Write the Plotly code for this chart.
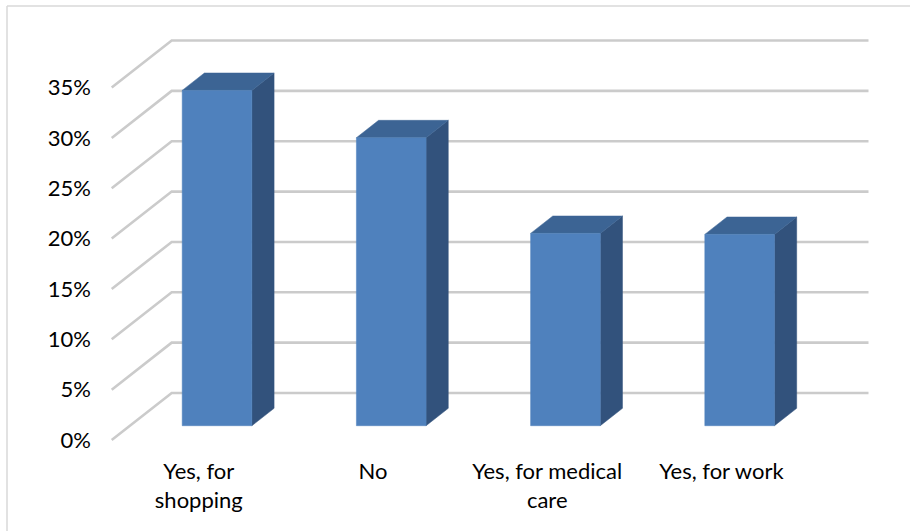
import plotly.graph_objects as go

categories = ["Yes, for<br>shopping", "No", "Yes, for medical<br>care", "Yes, for work"]
values = [33.3, 28.6, 19.1, 19.0]
tick_vals = [0, 5, 10, 15, 20, 25, 30, 35]
tick_text = ["0%", "5%", "10%", "15%", "20%", "25%", "30%", "35%"]

# oblique 3D projection parameters (in data units)
DX = 0.3444   # x shift for full depth (category units)
DY = 4.667    # y shift for full depth (percent units)
D0, D1 = 0.304, 0.674   # bar front/back depth fraction
HW = 0.20               # bar half width

FRONT = "#4F81BD"
TOP = "#3C6494"
SIDE = "#32527C"
GRID = "#CBCBCB"

def P(x, y, d):
    return x + d * DX, y + d * DY

fig = go.Figure()

# gridlines: side wall diagonals + back wall horizontals
for v in tick_vals:
    x0, y0 = P(-0.5, v, 0)
    x1, y1 = P(-0.5, v, 1)
    x2, y2 = P(len(categories) - 0.5, v, 1)
    fig.add_trace(go.Scatter(x=[x0, x1, x2], y=[y0, y1, y2], mode="lines",
                             line=dict(color=GRID, width=2.6), hoverinfo="skip",
                             showlegend=False))

def poly(pts, color):
    xs = [p[0] for p in pts] + [pts[0][0]]
    ys = [p[1] for p in pts] + [pts[0][1]]
    fig.add_trace(go.Scatter(x=xs, y=ys, mode="lines", fill="toself",
                             fillcolor=color, line=dict(color=color, width=0.5),
                             hoverinfo="skip", showlegend=False))

for i, v in enumerate(values):
    l, r = i - HW, i + HW
    # side face
    poly([P(r, 0, D0), P(r, v, D0), P(r, v, D1), P(r, 0, D1)], SIDE)
    # top face
    poly([P(l, v, D0), P(r, v, D0), P(r, v, D1), P(l, v, D1)], TOP)
    # front face
    poly([P(l, 0, D0), P(r, 0, D0), P(r, v, D0), P(l, v, D0)], FRONT)

W, H = 910, 531
L, R, T, B = 97, 880, 20, 456
xpx, ypx = 174.2, 10.07
x_lo = -0.5 - (111.7 - L) / xpx
x_hi = x_lo + (R - L) / xpx
y_hi = (440 - T) / ypx
y_lo = -(B - 440) / ypx

font = dict(family="Lato, Open Sans, sans-serif", size=22, color="#000000")

fig.update_layout(
    width=W, height=H,
    margin=dict(l=L, r=W - R, t=T, b=H - B, pad=0),
    paper_bgcolor="white", plot_bgcolor="white",
    font=font,
    xaxis=dict(range=[x_lo, x_hi], tickmode="array", tickvals=list(range(len(categories))),
               ticktext=categories, showgrid=False, zeroline=False, showline=False,
               ticks="", tickfont=font, fixedrange=True),
    yaxis=dict(range=[y_lo, y_hi], tickmode="array", tickvals=tick_vals, ticktext=tick_text,
               showgrid=False, zeroline=False, showline=False, ticks="", tickfont=font,
               ticklabelstandoff=5, fixedrange=True),
    shapes=[
        dict(type="line", xref="paper", yref="paper",
             x0=(7 - L) / (R - L), x1=(915 - L) / (R - L),
             y0=(B - 6) / (B - T), y1=(B - 6) / (B - T),
             line=dict(color="#D9D9D9", width=1.5)),
        dict(type="line", xref="paper", yref="paper",
             x0=(7 - L) / (R - L), x1=(7 - L) / (R - L),
             y0=(B - 6) / (B - T), y1=(B - 545) / (B - T),
             line=dict(color="#D9D9D9", width=1.5)),
    ],
)

fig.write_html("out.html")
